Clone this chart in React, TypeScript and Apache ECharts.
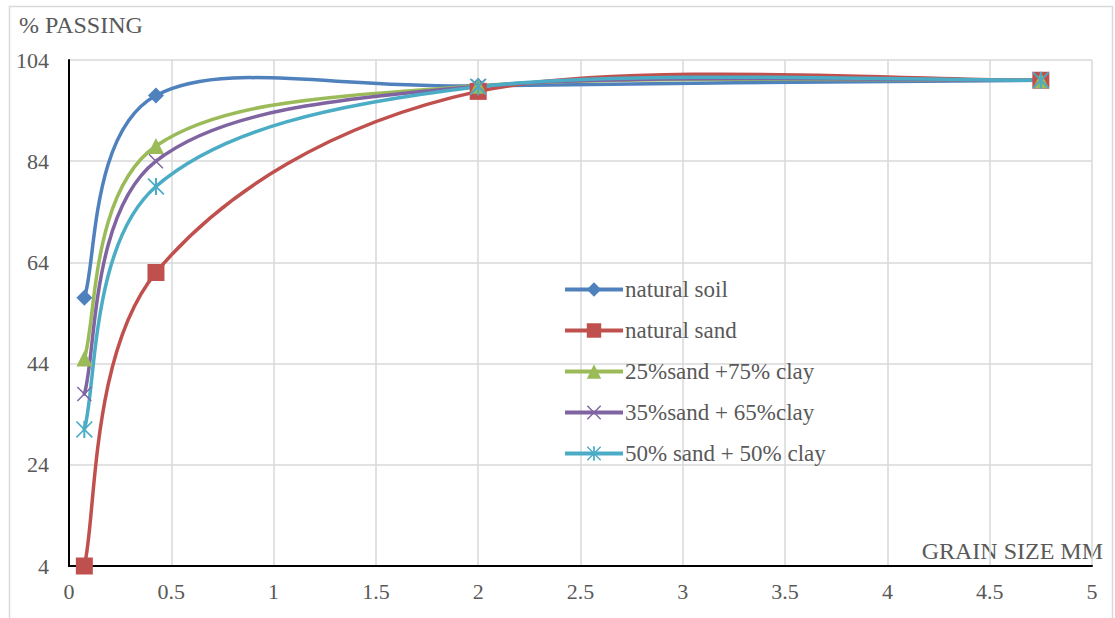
import React, { useEffect, useRef } from "react";
import * as echarts from "echarts";

const grainSize = [0.075, 0.425, 2, 4.75];
const seriesNames = [
  "natural soil",
  "natural sand",
  "25%sand +75% clay",
  "35%sand + 65%clay",
  "50% sand + 50% clay",
];
const naturalSoil = [57, 97, 98.9, 100];
const naturalSand = [4, 62, 97.8, 100];
const sand25 = [45, 87, 98.9, 100];
const sand35 = [38, 84, 98.8, 100];
const sand50 = [31, 79, 98.7, 100];
const xTicks = { min: 0, max: 5, interval: 0.5 };
const yTicks = { min: 4, max: 104, interval: 20 };

const colors = ["#4F81BD", "#C0504D", "#9BBB59", "#8064A2", "#4BACC6"];
const X_PATH =
  "path://M0,0.7 L0.7,0 L5,4.3 L9.3,0 L10,0.7 L5.7,5 L10,9.3 L9.3,10 L5,5.7 L0.7,10 L0,9.3 L4.3,5 Z";
const STAR_PATH =
  "path://M0,0.7 L0.7,0 L5,4.3 L9.3,0 L10,0.7 L5.7,5 L10,9.3 L9.3,10 L5,5.7 L0.7,10 L0,9.3 L4.3,5 Z M4.4,0 L5.6,0 L5.6,10 L4.4,10 Z";
const symbols = ["diamond", "rect", "triangle", X_PATH, STAR_PATH];
const symbolSizes = [16, 17, 16, 15, 17];
const FONT = "Liberation Serif";
const TEXT = "#595959";

export default function App() {
  const ref = useRef<HTMLDivElement>(null);
  useEffect(() => {
    if (!ref.current) return;
    const chart = echarts.init(ref.current, null, { renderer: "svg" });
    const all = [naturalSoil, naturalSand, sand25, sand35, sand50];

    const curveSeries = all.map((ys, k) => ({
      type: "custom",
      z: 2,
      clip: false,
      silent: true,
      data: [[grainSize[0], ys[0]]],
      encode: { x: 0, y: 1 },
      renderItem: (_params: any, api: any) => {
        const pts = grainSize.map((x, i) => api.coord([x, ys[i]]));
        const n = pts.length;
        const children: any[] = [];
        for (let i = 0; i < n - 1; i++) {
          const p0 = pts[Math.max(i - 1, 0)];
          const p1 = pts[i];
          const p2 = pts[i + 1];
          const p3 = pts[Math.min(i + 2, n - 1)];
          children.push({
            type: "bezierCurve",
            shape: {
              x1: p1[0],
              y1: p1[1],
              cpx1: p1[0] + (p2[0] - p0[0]) / 6,
              cpy1: p1[1] + (p2[1] - p0[1]) / 6,
              cpx2: p2[0] - (p3[0] - p1[0]) / 6,
              cpy2: p2[1] - (p3[1] - p1[1]) / 6,
              x2: p2[0],
              y2: p2[1],
            },
            style: {
              fill: null,
              stroke: colors[k],
              lineWidth: 3.5,
              lineCap: "round",
            },
          });
        }
        return { type: "group", children };
      },
    }));

    const markerSeries = all.map((ys, k) => ({
      type: "line",
      name: seriesNames[k],
      z: 3,
      data: grainSize.map((x, i) => [x, ys[i]]),
      symbol: symbols[k],
      symbolSize: symbolSizes[k],
      showAllSymbol: true,
      itemStyle: { color: colors[k] },
      lineStyle: { width: 0, opacity: 0, color: colors[k] },
    }));

    chart.setOption({
      animation: false,
      backgroundColor: "#ffffff",
      color: colors,
      textStyle: { fontFamily: FONT },
      grid: { left: 69, right: 23, top: 60, bottom: 52, containLabel: false },
      xAxis: {
        type: "value",
        min: xTicks.min,
        max: xTicks.max,
        interval: xTicks.interval,
        axisLine: { show: true, onZero: false, lineStyle: { color: "#000", width: 2 } },
        axisTick: { show: false },
        axisLabel: { fontFamily: FONT, fontSize: 22, color: TEXT, margin: 14 },
        splitLine: { show: true, lineStyle: { color: "#d9d9d9", width: 1.5 } },
      },
      yAxis: {
        type: "value",
        min: yTicks.min,
        max: yTicks.max,
        interval: yTicks.interval,
        axisLine: { show: true, onZero: false, lineStyle: { color: "#000", width: 2 } },
        axisTick: { show: false },
        axisLabel: { fontFamily: FONT, fontSize: 22, color: TEXT, margin: 20 },
        splitLine: { show: true, lineStyle: { color: "#d9d9d9", width: 1.5 } },
      },
      legend: {
        orient: "vertical",
        left: 563,
        top: 278,
        padding: 0,
        itemWidth: 58,
        itemHeight: 18,
        itemGap: 18,
        data: seriesNames,
        lineStyle: { width: 4, opacity: 1 },
        textStyle: { fontFamily: FONT, fontSize: 23, color: TEXT, lineHeight: 23, padding: [0, 0, 0, -3] },
      },
      graphic: [
        {
          type: "rect",
          silent: true,
          shape: { x: 9.5, y: 6.5, width: 1103, height: 640 },
          style: { fill: "none", stroke: "#d9d9d9", lineWidth: 1.5 },
        },
        {
          type: "text",
          left: 19,
          top: 13,
          style: { text: "% PASSING", fontFamily: FONT, fontSize: 24, fill: TEXT },
        },
        {
          type: "text",
          right: 12,
          top: 539,
          style: { text: "GRAIN SIZE MM", fontFamily: FONT, fontSize: 24, fill: TEXT },
        },
      ],
      series: [...curveSeries, ...markerSeries],
    });
    return () => chart.dispose();
  }, []);
  return (
    <div
      ref={ref}
      style={{ position: "fixed", left: 0, top: 0, width: 1115, height: 618, background: "#fff" }}
    />
  );
}
